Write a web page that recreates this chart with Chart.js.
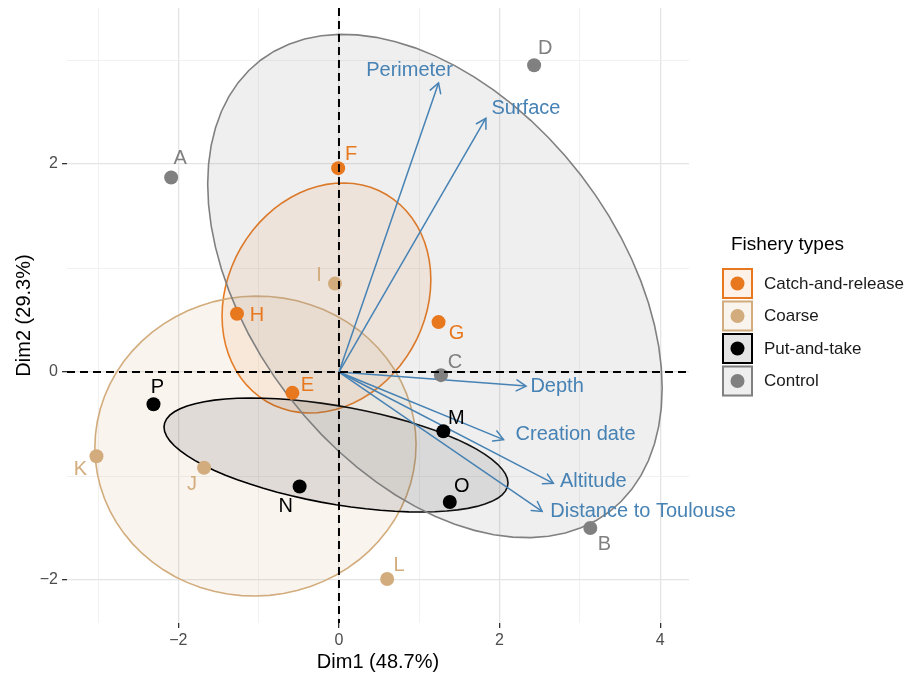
<!DOCTYPE html>
<html>
<head>
<meta charset="utf-8">
<script src="https://cdn.jsdelivr.net/npm/chart.js@4/dist/chart.umd.min.js"></script>
<style>
  html, body { margin: 0; padding: 0; background: #fff; }
  #wrap { width: 915px; height: 676px; }
</style>
</head>
<body>
<div id="wrap"><canvas id="biplot" width="915" height="676"></canvas></div>
<script>
'use strict';

// ---- data ----
const groups = ['Catch-and-release', 'Coarse', 'Put-and-take', 'Control'];

const siteNames = ['A', 'B', 'C', 'D', 'E', 'F', 'G', 'H', 'I', 'J', 'K', 'L', 'M', 'N', 'O', 'P'];
const siteGroup = [3, 3, 3, 3, 0, 0, 0, 0, 1, 1, 1, 1, 2, 2, 2, 2];
const siteDim1 = [-2.09, 3.13, 1.27, 2.43, -0.58, -0.01, 1.24, -1.27, -0.05, -1.68, -3.02, 0.60, 1.30, -0.49, 1.38, -2.31];
const siteDim2 = [1.87, -1.50, -0.03, 2.95, -0.20, 1.96, 0.48, 0.56, 0.85, -0.92, -0.81, -1.99, -0.57, -1.10, -1.25, -0.31];

const varNames = ['Perimeter', 'Surface', 'Depth', 'Creation date', 'Altitude', 'Distance to Toulouse'];
const varDim1 = [1.24, 1.83, 2.33, 2.05, 2.67, 2.53];
const varDim2 = [2.78, 2.44, -0.135, -0.65, -1.07, -1.34];

// group ellipses (same order as groups):
// centre, half of the horizontal / vertical extent, and where the top point sits
// (x offset of the top point as a fraction of the half width)
const ellipseCenterX = [-0.156, -1.04, -0.037, 1.195];
const ellipseCenterY = [0.712, -0.712, -0.798, 0.827];
const ellipseHalfWidth = [1.30, 2.00, 2.142, 2.83];
const ellipseHalfHeight = [1.106, 1.442, 0.548, 2.42];
const ellipseTopShift = [0.158, 0.01, -0.49, -0.405];

const xGrid = [-3, -2, -1, 0, 1, 2, 3, 4];
const yGrid = [-2, -1, 0, 1, 2, 3];
const xTickLabels = [-2, 0, 2, 4];
const yTickLabels = [-2, 0, 2];

// ---- look ----
const groupColors = ['#E8781E', '#D2AC7C', '#000000', '#808080'];
const groupFillAlpha = [0.1, 0.13, 0.1, 0.13];
const arrowColor = '#4682B4';
const fontFamily = "'Liberation Sans', Arial, Helvetica, sans-serif";

// label nudges in pixels (ggrepel-like placement)
const siteLabelDx = [9, 14, 14, 11, 15, 13, 18, 20, -16, -12, -16, 12, 13, -14, 12, 4];
const siteLabelDy = [-19, 16, -13, -17, -7, -14, 11, 2, -8, 17, 13, -14, -13, 20, -16, -17];
const varLabelDx = [-29, 40, 31, 72, 40, 101];
const varLabelDy = [-12, -10, 0, -5, -2, 0];

function rgba(hex, a) {
  const n = parseInt(hex.slice(1), 16);
  return 'rgba(' + ((n >> 16) & 255) + ',' + ((n >> 8) & 255) + ',' + (n & 255) + ',' + a + ')';
}
function minus(v) {
  return v < 0 ? '\u2212' + Math.abs(v) : String(v);
}

// outline of one ellipse: x = cx + a cos t, y = cy + b cos(t - phi)
function ellipseOutline(gi) {
  const phi = Math.acos(ellipseTopShift[gi]);
  const pts = [];
  for (let k = 0; k < 72; k++) {
    const t = k / 72 * Math.PI * 2;
    pts.push({
      x: ellipseCenterX[gi] + ellipseHalfWidth[gi] * Math.cos(t),
      y: ellipseCenterY[gi] + ellipseHalfHeight[gi] * Math.cos(t - phi)
    });
  }
  return pts;
}

const datasets = [];

// site points
groups.forEach(function (g, gi) {
  const pts = [];
  siteNames.forEach(function (name, i) {
    if (siteGroup[i] === gi) pts.push({x: siteDim1[i], y: siteDim2[i], name: name});
  });
  datasets.push({
    kind: 'site', group: gi, label: g, data: pts,
    showLine: false, pointRadius: 7, pointHoverRadius: 7,
    backgroundColor: groupColors[gi], borderWidth: 0, order: 1
  });
});

// variable arrows
varNames.forEach(function (v, i) {
  datasets.push({
    kind: 'arrow', label: v,
    data: [{x: 0, y: 0}, {x: varDim1[i], y: varDim2[i]}],
    showLine: true, borderColor: arrowColor, borderWidth: 1.5,
    pointRadius: 0, fill: false, order: 2
  });
});

// group ellipses, later groups on top like ggplot
groups.forEach(function (g, gi) {
  datasets.push({
    kind: 'hull', label: g,
    data: ellipseOutline(gi),
    showLine: true, tension: 0, fill: 'shape',
    borderColor: groupColors[gi], borderWidth: 1.6,
    backgroundColor: rgba(groupColors[gi], groupFillAlpha[gi]),
    pointRadius: 0, order: 10 - gi
  });
});

const overlay = {
  id: 'biplotOverlay',
  afterDatasetUpdate: function (chart, args) {
    const ds = chart.data.datasets[args.index];
    if (ds.kind === 'hull' && args.meta.dataset) {
      const line = args.meta.dataset;
      line._loop = true;
      line._fullLoop = true;
      line._pointsUpdated = false;
      line._path = undefined;
    }
  },
  afterDatasetsDraw: function (chart) {
    const ctx = chart.ctx;
    const area = chart.chartArea;
    const xs = chart.scales.x;
    const ys = chart.scales.y;

    // arrow heads
    chart.data.datasets.forEach(function (ds, di) {
      if (ds.kind !== 'arrow') return;
      const meta = chart.getDatasetMeta(di);
      const a = meta.data[0], b = meta.data[1];
      const ang = Math.atan2(b.y - a.y, b.x - a.x);
      const len = 11, spread = Math.PI / 6;
      ctx.save();
      ctx.strokeStyle = arrowColor;
      ctx.lineWidth = 1.5;
      ctx.lineCap = 'round';
      ctx.beginPath();
      ctx.moveTo(b.x - len * Math.cos(ang - spread), b.y - len * Math.sin(ang - spread));
      ctx.lineTo(b.x, b.y);
      ctx.lineTo(b.x - len * Math.cos(ang + spread), b.y - len * Math.sin(ang + spread));
      ctx.stroke();
      ctx.restore();
    });

    // dashed zero lines
    const x0 = xs.getPixelForValue(0);
    const y0 = ys.getPixelForValue(0);
    ctx.save();
    ctx.strokeStyle = '#000';
    ctx.lineWidth = 2;
    ctx.setLineDash([8, 5]);
    ctx.beginPath();
    ctx.moveTo(x0, area.top);
    ctx.lineTo(x0, area.bottom);
    ctx.moveTo(area.left, y0);
    ctx.lineTo(area.right, y0);
    ctx.stroke();
    ctx.restore();

    // labels
    ctx.save();
    ctx.textAlign = 'center';
    ctx.textBaseline = 'middle';
    ctx.font = '20px ' + fontFamily;
    siteNames.forEach(function (name, i) {
      ctx.fillStyle = groupColors[siteGroup[i]];
      ctx.fillText(name, xs.getPixelForValue(siteDim1[i]) + siteLabelDx[i], ys.getPixelForValue(siteDim2[i]) + siteLabelDy[i]);
    });
    ctx.fillStyle = arrowColor;
    varNames.forEach(function (v, i) {
      ctx.fillText(v, xs.getPixelForValue(varDim1[i]) + varLabelDx[i], ys.getPixelForValue(varDim2[i]) + varLabelDy[i]);
    });
    ctx.restore();
  },
  afterDraw: function (chart) {
    // legend in the ggplot style
    const ctx = chart.ctx;
    const left = chart.chartArea.right + 33;
    ctx.save();
    ctx.fillStyle = '#000';
    ctx.textBaseline = 'middle';
    ctx.textAlign = 'left';
    ctx.font = '19px ' + fontFamily;
    ctx.fillText('Fishery types', left + 9, 245);
    ctx.font = '17px ' + fontFamily;
    groups.forEach(function (g, gi) {
      const top = 268 + gi * 32.5;
      ctx.fillStyle = '#fff';
      ctx.fillRect(left, top, 31, 31);
      ctx.fillStyle = rgba(groupColors[gi], groupFillAlpha[gi]);
      ctx.fillRect(left, top, 31, 31);
      ctx.strokeStyle = groupColors[gi];
      ctx.lineWidth = 2;
      ctx.strokeRect(left + 1, top + 1, 29, 29);
      ctx.fillStyle = groupColors[gi];
      ctx.beginPath();
      ctx.arc(left + 15.5, top + 15.5, 7, 0, Math.PI * 2);
      ctx.fill();
      ctx.fillStyle = '#1a1a1a';
      ctx.fillText(g, left + 42, top + 16);
    });
    ctx.restore();
  }
};

function gridColor(ctx) {
  return ctx.tick && (ctx.tick.value % 2 === 0) ? '#e4e4e4' : '#efefef';
}
function gridWidth(ctx) {
  return ctx.tick && (ctx.tick.value % 2 === 0) ? 1.3 : 0.9;
}
function tickMarkColor(ctx) {
  return ctx.tick && (ctx.tick.value % 2 === 0) ? '#333' : 'rgba(0,0,0,0)';
}

new Chart(document.getElementById('biplot').getContext('2d'), {
  type: 'scatter',
  data: {datasets: datasets},
  plugins: [overlay],
  options: {
    responsive: false,
    animation: false,
    events: [],
    layout: {padding: {left: 0, right: 226, top: 8, bottom: 0}},
    plugins: {legend: {display: false}, tooltip: {enabled: false}},
    scales: {
      x: {
        type: 'linear', position: 'bottom', min: -3.387, max: 4.359,
        afterBuildTicks: function (s) { s.ticks = xGrid.map(function (v) { return {value: v}; }); },
        afterFit: function (s) { s.height = 53; s.paddingLeft = 0; s.paddingRight = 0; },
        border: {display: false},
        grid: {color: gridColor, lineWidth: gridWidth, tickColor: tickMarkColor, tickLength: 5, tickWidth: 1.3},
        ticks: {
          autoSkip: false, maxRotation: 0, padding: 3, color: '#4d4d4d',
          font: {family: fontFamily, size: 16},
          callback: function (v) { return xTickLabels.indexOf(v) >= 0 ? minus(v) : ''; }
        },
        title: {display: true, text: 'Dim1 (48.7%)', color: '#000', font: {family: fontFamily, size: 20}, padding: {top: 0, bottom: 2}}
      },
      y: {
        type: 'linear', position: 'left', min: -2.413, max: 3.5,
        afterBuildTicks: function (s) { s.ticks = yGrid.map(function (v) { return {value: v}; }); },
        afterFit: function (s) { s.width = 67; s.paddingTop = 0; s.paddingBottom = 0; },
        border: {display: false},
        grid: {color: gridColor, lineWidth: gridWidth, tickColor: tickMarkColor, tickLength: 5, tickWidth: 1.3},
        ticks: {
          autoSkip: false, padding: 4, color: '#4d4d4d',
          font: {family: fontFamily, size: 16},
          callback: function (v) { return yTickLabels.indexOf(v) >= 0 ? minus(v) : ''; }
        },
        title: {display: true, text: 'Dim2 (29.3%)', color: '#000', font: {family: fontFamily, size: 20}, padding: {top: 12, bottom: 0}}
      }
    }
  }
});
</script>
</body>
</html>
